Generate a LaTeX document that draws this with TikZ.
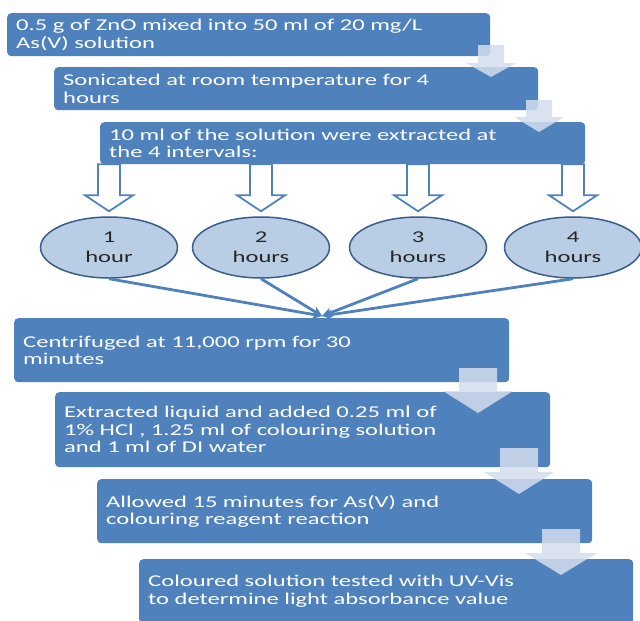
\documentclass[tikz,border=0pt]{standalone}
\usepackage{fontspec}
\newfontfamily\boxfont{Carlito}[FakeStretch=1.49]
\usetikzlibrary{shapes.geometric,arrows.meta}

\definecolor{boxblue}{HTML}{4F81BD}
\definecolor{ellfill}{HTML}{B9CDE5}
\definecolor{ellline}{HTML}{385D8A}
\definecolor{arrowlite}{HTML}{D3DDED}

\tikzset{
    procbox/.style={anchor=north west, fill=boxblue, rounded corners=4pt, text=white,
        inner xsep=9pt, inner ysep=0pt, align=left,
        font=\boxfont\fontsize{16.5}{17.5}\selectfont},
    hourell/.style={ellipse, draw=ellline, line width=1.5pt, fill=ellfill,
        minimum width=137pt, minimum height=61pt, inner sep=0pt, align=center,
        text=black!85, font=\boxfont\fontsize{16.5}{20}\selectfont},
    hollowarr/.style={draw=boxblue, fill=white, line width=1.8pt},
    litearr/.style={fill=arrowlite, fill opacity=0.85},
    feed/.style={draw=boxblue, line width=2.8pt, -{Stealth[length=10pt,width=10pt]}}
}

\begin{document}
\begin{tikzpicture}[x=1pt, y=-1pt]
    \clip (0,0) rectangle (640,621);

    % process steps
    \node[procbox, text width=465pt, minimum height=43pt] (b1) at (7,13)
        {0.5 g of ZnO mixed into 50 ml of 20 mg/L\\As(V) solution};
    \node[procbox, text width=466pt, minimum height=43pt] (b2) at (54,67)
        {Sonicated at room temperature for 4\\hours};
    \node[procbox, text width=467pt, minimum height=42pt] (b3) at (100,122)
        {10 ml of the solution were extracted at\\the 4 intervals:};
    \node[procbox, text width=477pt, minimum height=64pt] (b4) at (14,318)
        {Centrifuged at 11,000 rpm for 30\\minutes};
    \node[procbox, text width=477pt, minimum height=75pt] (b5) at (55,392)
        {Extracted liquid and added 0.25 ml of\\1\% HCl , 1.25 ml of colouring solution\\and 1 ml of DI water};
    \node[procbox, text width=477pt, minimum height=64pt] (b6) at (97,479)
        {Allowed 15 minutes for As(V) and\\colouring reagent reaction};
    \node[procbox, text width=476pt, minimum height=64pt] (b7) at (139,559)
        {Coloured solution tested with UV-Vis\\to determine light absorbance value};

    % sampling times
    \foreach \i/\x/\t in {1/109/{1\\hour}, 2/261/{2\\hours}, 3/418/{3\\hours}, 4/573/{4\\hours}}
        \node[hourell] (e\i) at (\x,247.5) {\t};

    \foreach \i in {1,...,4}
        \draw[hollowarr] ([yshift=5pt]e\i.north) -- ++(24,-16) -- ++(-13,0) -- ++(0,-31)
            -- ++(-22,0) -- ++(0,31) -- ++(-13,0) -- cycle;

    % light block arrows between steps
    \foreach \x/\yt/\yh/\yb/\s/\h in {491/45/63/77/13/25, 539/100/117/132/13/25,
            478/368/391/413/19/35, 519/448/472/494/19/35, 561/529/553/575/19/36}
        \fill[litearr] ({\x-\s},\yt) -- ({\x+\s},\yt) -- ({\x+\s},\yh) -- ({\x+\h},\yh)
            -- (\x,\yb) -- ({\x-\h},\yh) -- ({\x-\s},\yh) -- cycle;

    \coordinate (hub) at (322,316);
    \foreach \i in {1,...,4}
        \draw[feed] (e\i.south) -- (hub);
\end{tikzpicture}
\end{document}
